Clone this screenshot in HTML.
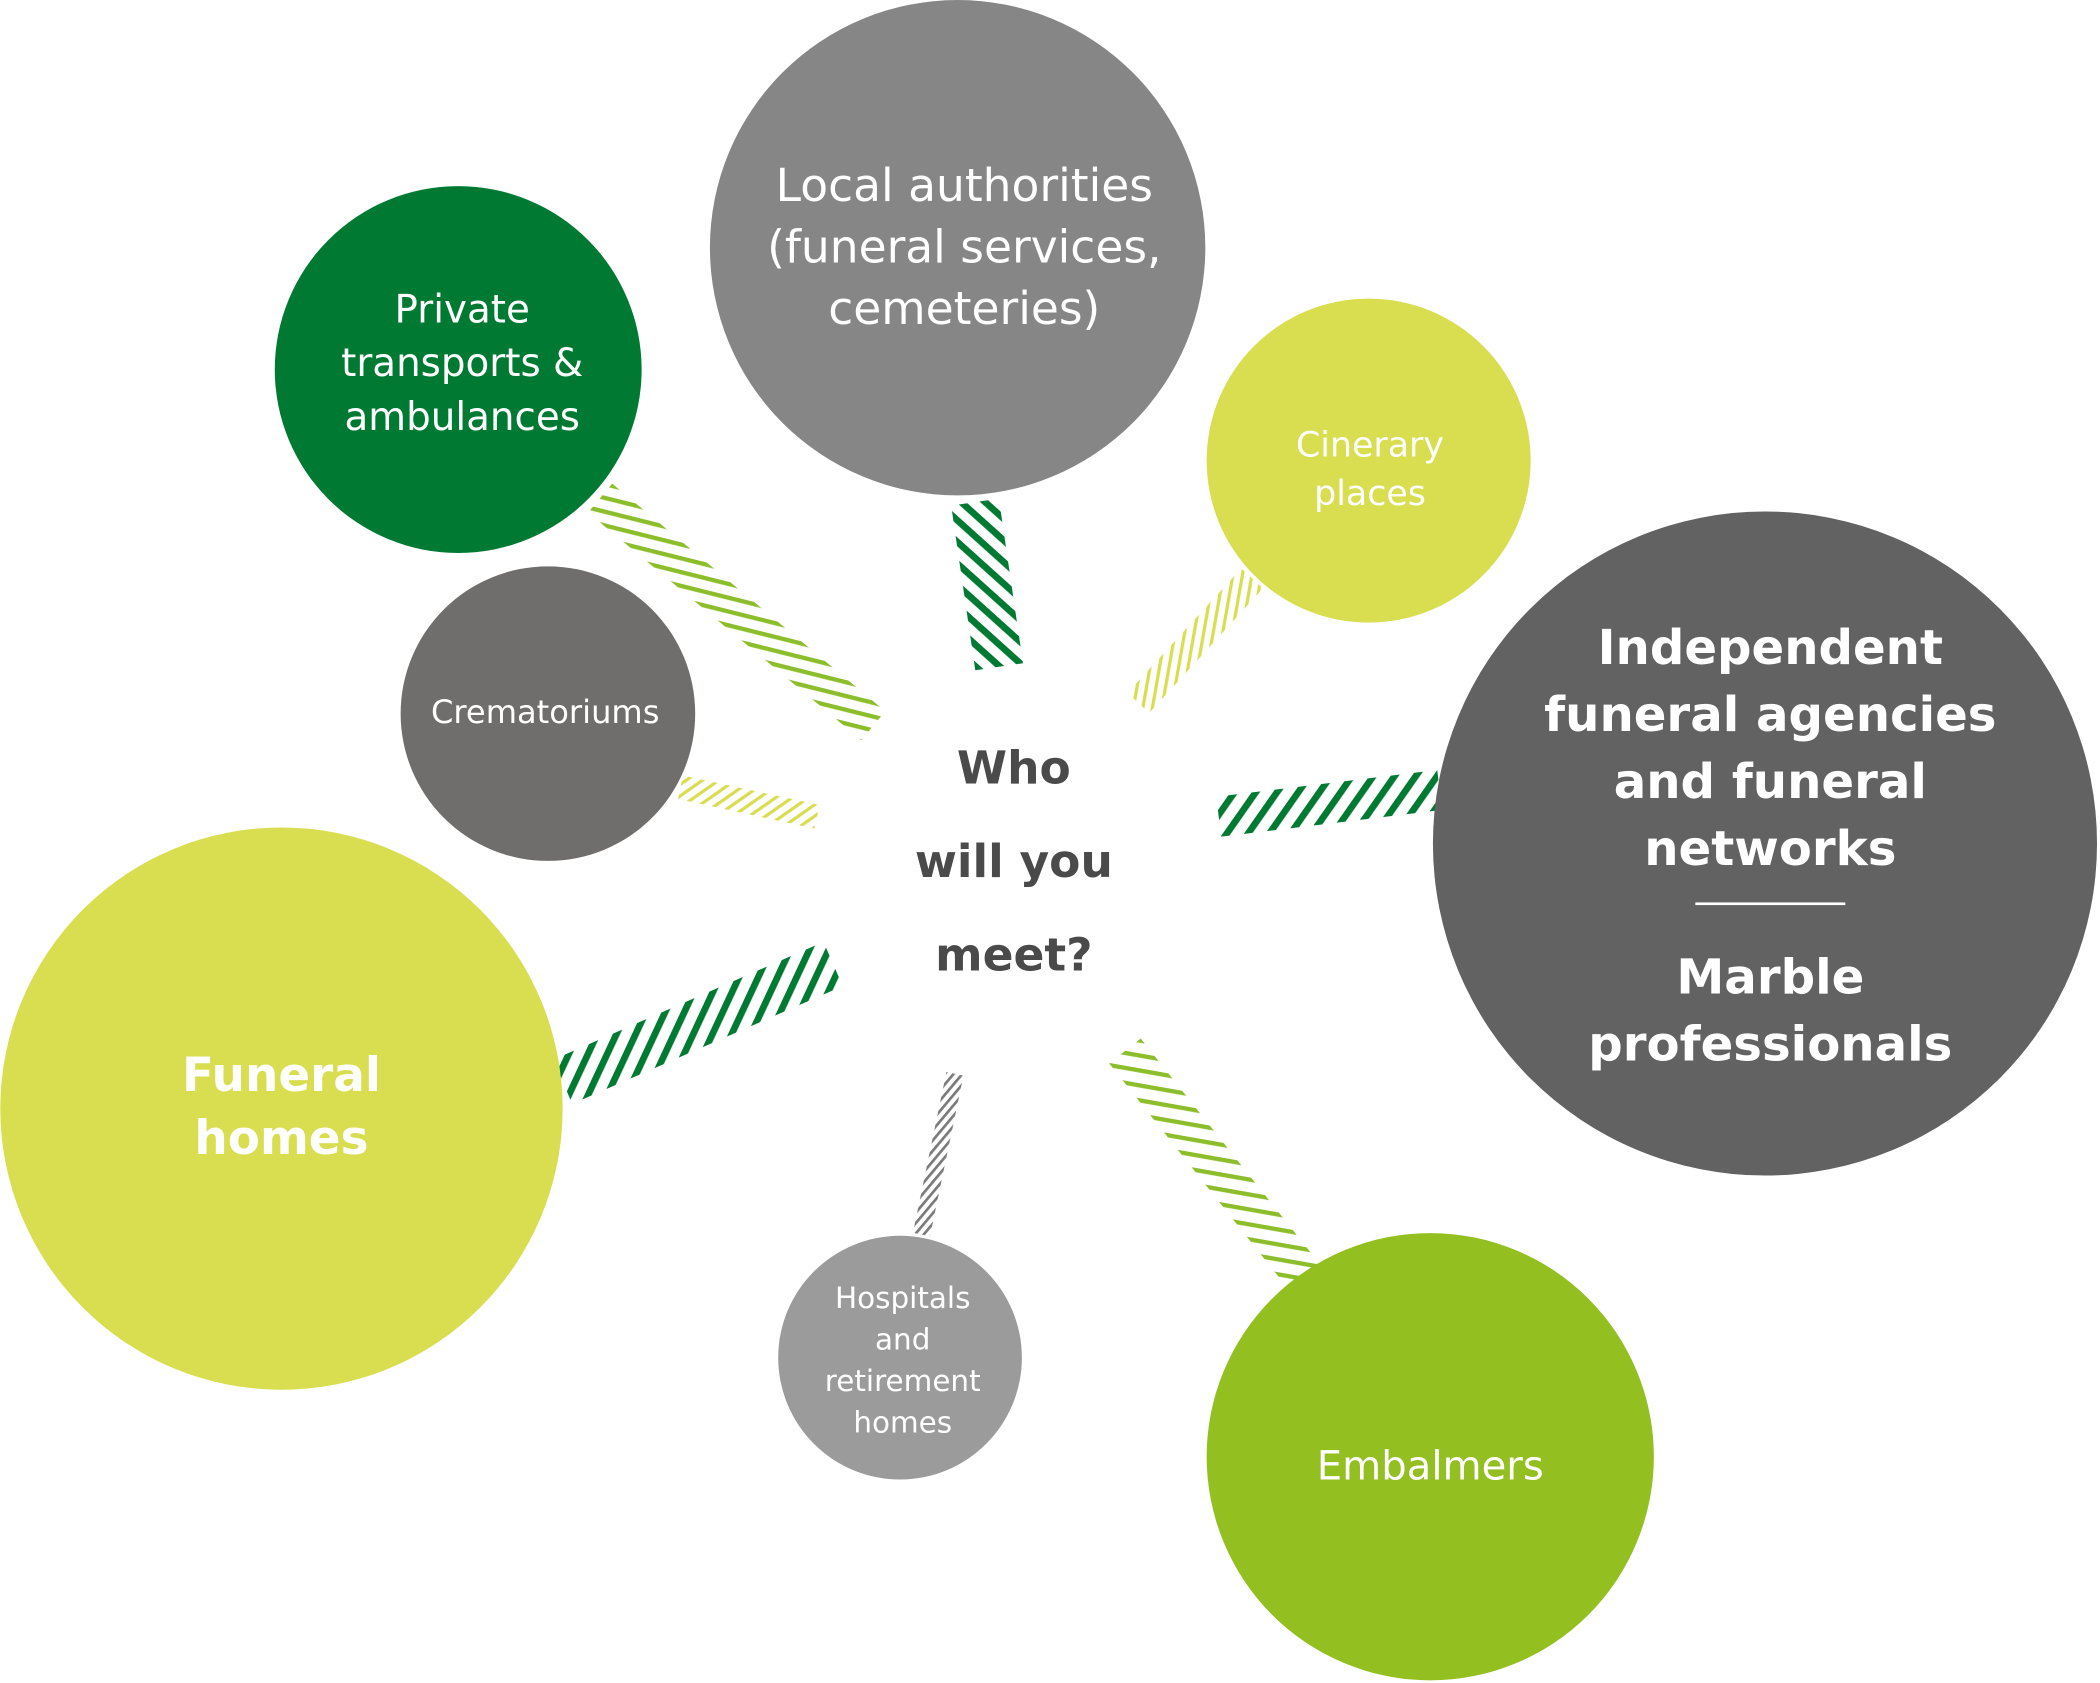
<!DOCTYPE html>
<html><head><meta charset="utf-8"><style>
html,body{margin:0;padding:0;background:#fff;}
svg{display:block;}
text{font-family:"DejaVu Sans","Liberation Sans",sans-serif;text-anchor:middle;}
</style></head><body>
<svg width="2100" height="1683" viewBox="0 0 1568 1257" xmlns="http://www.w3.org/2000/svg">
<defs>
<pattern id="pLg" width="10" height="10" patternUnits="userSpaceOnUse" patternTransform="rotate(14)"><rect x="0" y="0" width="10" height="3.2" fill="#8cbd2a"/></pattern>
<pattern id="pLg2" width="11" height="11" patternUnits="userSpaceOnUse" patternTransform="rotate(10)"><rect x="0" y="0" width="11" height="3.2" fill="#8cbd2a"/></pattern>
<pattern id="pDgB" width="12" height="12" patternUnits="userSpaceOnUse" patternTransform="rotate(42)"><rect x="0" y="0" width="12" height="5" fill="#007a33"/></pattern>
<pattern id="pDgF" width="13" height="13" patternUnits="userSpaceOnUse" patternTransform="rotate(-55)"><rect x="0" y="0" width="13" height="5" fill="#007a33"/></pattern>
<pattern id="pDgF2" width="13" height="13" patternUnits="userSpaceOnUse" patternTransform="rotate(-65)"><rect x="0" y="0" width="13" height="5" fill="#007a33"/></pattern>
<pattern id="pYv" width="7" height="7" patternUnits="userSpaceOnUse" patternTransform="rotate(-80)"><rect x="0" y="0" width="7" height="2.4" fill="#d9dd50"/></pattern>
<pattern id="pYf" width="7" height="7" patternUnits="userSpaceOnUse" patternTransform="rotate(-35)"><rect x="0" y="0" width="7" height="2.4" fill="#d9dd50"/></pattern>
<pattern id="pGr" width="5" height="5" patternUnits="userSpaceOnUse" patternTransform="rotate(-50)"><rect x="0" y="0" width="5" height="2" fill="#7a7a7a"/></pattern>
</defs>

<!-- connectors -->
<line x1="448" y1="372" x2="652" y2="542" stroke="url(#pLg)" stroke-width="28"/>
<line x1="728" y1="375" x2="746" y2="498" stroke="url(#pDgB)" stroke-width="36"/>
<line x1="935" y1="432" x2="850" y2="525" stroke="url(#pYv)" stroke-width="22"/>
<line x1="508" y1="588" x2="610" y2="610" stroke="url(#pYf)" stroke-width="18"/>
<line x1="910" y1="610" x2="1075" y2="590" stroke="url(#pDgF)" stroke-width="30"/>
<line x1="420" y1="808" x2="622" y2="720" stroke="url(#pDgF2)" stroke-width="36"/>
<line x1="713" y1="802" x2="688" y2="922" stroke="url(#pGr)" stroke-width="13"/>
<line x1="840" y1="785" x2="975" y2="955" stroke="url(#pLg2)" stroke-width="30"/>

<!-- circles -->
<circle cx="715" cy="185" r="185" fill="#868686"/>
<circle cx="342" cy="276" r="137" fill="#007a33"/>
<circle cx="1022" cy="344" r="121" fill="#d9dd50"/>
<circle cx="1318" cy="630" r="248" fill="#626262"/>
<circle cx="409" cy="533" r="110" fill="#6f6e6c"/>
<circle cx="210" cy="828" r="210" fill="#d9dd50"/>
<circle cx="672" cy="1014" r="91" fill="#9b9b9b"/>
<circle cx="1068" cy="1088" r="167" fill="#93bf20"/>

<!-- labels -->
<g fill="#fff">
<text x="720" y="150" font-size="34">Local authorities</text>
<text x="720" y="196" font-size="34">(funeral services,</text>
<text x="720" y="242" font-size="34">cemeteries)</text>

<text x="345" y="241" font-size="29">Private</text>
<text x="345" y="281" font-size="29">transports &amp;</text>
<text x="345" y="321" font-size="29">ambulances</text>

<text x="1023" y="341" font-size="26">Cinerary</text>
<text x="1023" y="377" font-size="26">places</text>

<g font-weight="bold" font-size="36">
<text x="1322" y="496">Independent</text>
<text x="1322" y="546">funeral agencies</text>
<text x="1322" y="596">and funeral</text>
<text x="1322" y="646">networks</text>
<text x="1322" y="742">Marble</text>
<text x="1322" y="792">professionals</text>
</g>
<rect x="1266" y="674" width="112" height="2" fill="#fff"/>

<text x="407" y="540" font-size="24">Crematoriums</text>

<text x="210" y="815" font-size="35" font-weight="bold">Funeral</text>
<text x="210" y="862" font-size="35" font-weight="bold">homes</text>

<text x="674" y="977" font-size="22">Hospitals</text>
<text x="674" y="1008" font-size="22">and</text>
<text x="674" y="1039" font-size="22">retirement</text>
<text x="674" y="1070" font-size="22">homes</text>

<text x="1068" y="1105" font-size="30">Embalmers</text>
</g>

<g fill="#4a4a4a" font-weight="bold" font-size="34">
<text x="757" y="585">Who</text>
<text x="757" y="655">will you</text>
<text x="757" y="725">meet?</text>
</g>
</svg>
</body></html>
